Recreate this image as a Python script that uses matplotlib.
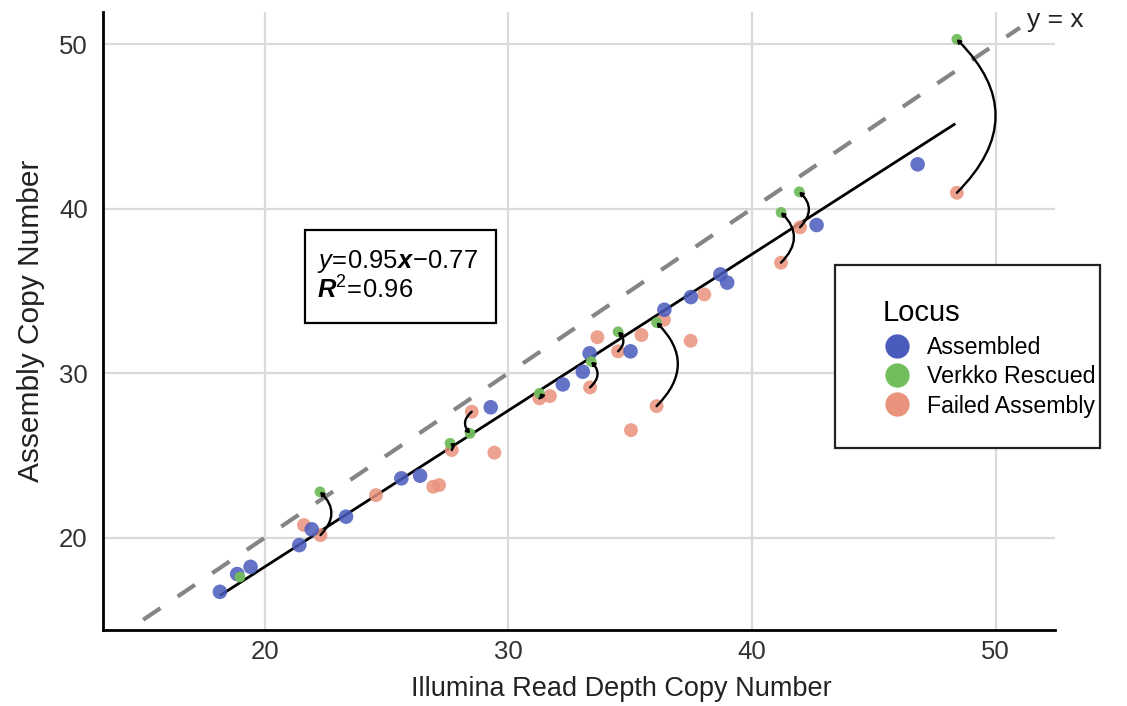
import numpy as np
import matplotlib
matplotlib.use("Agg")
import matplotlib.pyplot as plt
from matplotlib.lines import Line2D
from matplotlib.patches import Rectangle

# ---------------- data ----------------
assembled_x = [18.15, 18.86, 19.41, 21.41, 21.92, 23.33, 25.60, 26.37, 29.27, 32.23,
               33.05, 33.33, 35.01, 36.40, 37.49, 38.70, 38.98, 42.65, 46.80]
assembled_y = [16.70, 17.78, 18.22, 19.54, 20.50, 21.27, 23.60, 23.76, 27.92, 29.31,
               30.08, 31.20, 31.32, 33.85, 34.62, 36.00, 35.50, 39.00, 42.69]

# Verkko rescued loci and their copy number before rescue (failed assembly)
rescued_x = [18.97, 22.26, 27.60, 28.42, 31.27, 33.40, 34.50, 36.08, 41.19, 41.94, 48.41]
rescued_y = [17.60, 22.78, 25.73, 26.33, 28.77, 30.70, 32.51, 33.07, 39.77, 41.02, 50.29]
prior_x = [np.nan, 22.28, 27.67, 28.49, 31.27, 33.35, 34.50, 36.08, 41.19, 41.97, 48.41]
prior_y = [np.nan, 20.15, 25.32, 27.65, 28.46, 29.13, 31.32, 27.99, 36.71, 38.86, 40.96]

# other failed assemblies
failed_x = [21.60, 24.56, 26.91, 27.15, 29.42, 31.70, 33.65, 35.46, 35.03, 36.38, 37.48, 38.04]
failed_y = [20.76, 22.58, 23.09, 23.19, 25.16, 28.60, 32.18, 32.31, 26.53, 33.24, 31.96, 34.78]

fit_slope, fit_intercept, fit_r2 = 0.95, -0.77, 0.96
fit_range = [18.2, 48.3]
identity_range = [15.0, 51.0]

xticks = [20, 30, 40, 50]
yticks = [20, 30, 40, 50]
legend_title = "Locus"
legend_labels = ["Assembled", "Verkko Rescued", "Failed Assembly"]

# ---------------- style ----------------
plt.rcParams['font.family'] = ['Liberation Sans', 'DejaVu Sans']
plt.rcParams['mathtext.fontset'] = 'custom'
plt.rcParams['mathtext.rm'] = 'Liberation Sans'
plt.rcParams['mathtext.it'] = 'Liberation Sans:italic'
plt.rcParams['mathtext.bf'] = 'Liberation Sans:bold:italic'

c_blue = "#4a5bbd"
c_green = "#72bd5c"
c_red = "#e9927c"

fig = plt.figure(figsize=(11.27, 7.06), dpi=100)
ax = fig.add_axes([103/1127, 1-630/706, (1055-103)/1127, (630-12)/706])

ax.set_xlim(13.35, 52.44)
ax.set_ylim(14.38, 51.95)
ax.set_xticks(xticks)
ax.set_yticks(yticks)
ax.grid(True, color="#dadada", linewidth=1.6)
ax.set_axisbelow(True)
for s in ["top", "right"]:
    ax.spines[s].set_visible(False)
for s in ["left", "bottom"]:
    ax.spines[s].set_linewidth(2.0)
    ax.spines[s].set_color("black")
ax.tick_params(length=0, labelsize=18.5, labelcolor="#333333")
ax.tick_params(axis='x', pad=7)
ax.tick_params(axis='y', pad=11)

ax.set_xlabel("Illumina Read Depth Copy Number", fontsize=19.5, color="#222222", labelpad=8)
ax.xaxis.set_label_coords((621 - 103) / 952, -0.075)
ax.set_ylabel("Assembly Copy Number", fontsize=21.5, color="#222222", labelpad=10)

# identity line
ax.plot(identity_range, identity_range, color="#858585", lw=3, linestyle=(0, (5, 5)), zorder=2)
ax.text(identity_range[1] + 0.3, identity_range[1] + 0.45, "y = x", fontsize=19,
        color="#222222", ha="left", va="center", clip_on=False)

# regression line
fx = np.array(fit_range)
ax.plot(fx, fit_slope * fx + fit_intercept, color="black", lw=2.0, zorder=3)

# points
ax.scatter(failed_x + [v for v in prior_x if not np.isnan(v)],
           failed_y + [v for v in prior_y if not np.isnan(v)],
           s=100, color=c_red, alpha=0.85, edgecolors="none", zorder=4)
ax.scatter(assembled_x, assembled_y, s=110, color=c_blue, alpha=0.85, edgecolors="none", zorder=5)
ax.scatter(rescued_x, rescued_y, s=60, color=c_green, alpha=0.95, edgecolors="none", zorder=6)

# rescue arrows
for x0, y0, x1, y1 in zip(prior_x, prior_y, rescued_x, rescued_y):
    if np.isnan(x0):
        continue
    ax.annotate("", xy=(x1, y1), xytext=(x0, y0),
                arrowprops=dict(arrowstyle="-|>,head_length=0.18,head_width=0.12",
                                connectionstyle="arc3,rad=0.5", color="black",
                                lw=1.7, shrinkA=0, shrinkB=0),
                zorder=7)

# equation box
ax.text(21.64 + 0.5, 35.9, r"$y\!=\!0.95\mathbf{x}\!-\!0.77$" + "\n" + r"$\mathbf{R}^{2}\!=\!0.96$",
        fontsize=18.4, color="black", ha="left", va="center", linespacing=1.05, zorder=8)
ax.add_patch(Rectangle((21.64, 33.04), 29.49 - 21.64, 38.69 - 33.04, fill=True,
                       facecolor="white", edgecolor="black", lw=1.6, zorder=7.5))

# legend
handles = [Line2D([], [], marker="o", linestyle="none", markersize=17.5, markerfacecolor=c,
                  markeredgecolor="none") for c in [c_blue, c_green, c_red]]
leg = fig.legend(handles, legend_labels, loc="upper left",
                 bbox_to_anchor=(883/1127, 1 - 336/706), frameon=False,
                 fontsize=16.7, handletextpad=0.7, labelspacing=0.27,
                 borderaxespad=0, borderpad=0, handlelength=1.2)
fig.text(883/1127, 1 - 313/706, legend_title, fontsize=21, color="black",
         ha="left", va="center")
fig.patches.append(Rectangle((835/1127, 1 - 448/706), 265/1127, 183/706,
                             transform=fig.transFigure, facecolor="white",
                             edgecolor="#222222", lw=1.6, zorder=0.5))

fig.savefig("out.png", dpi=100)
